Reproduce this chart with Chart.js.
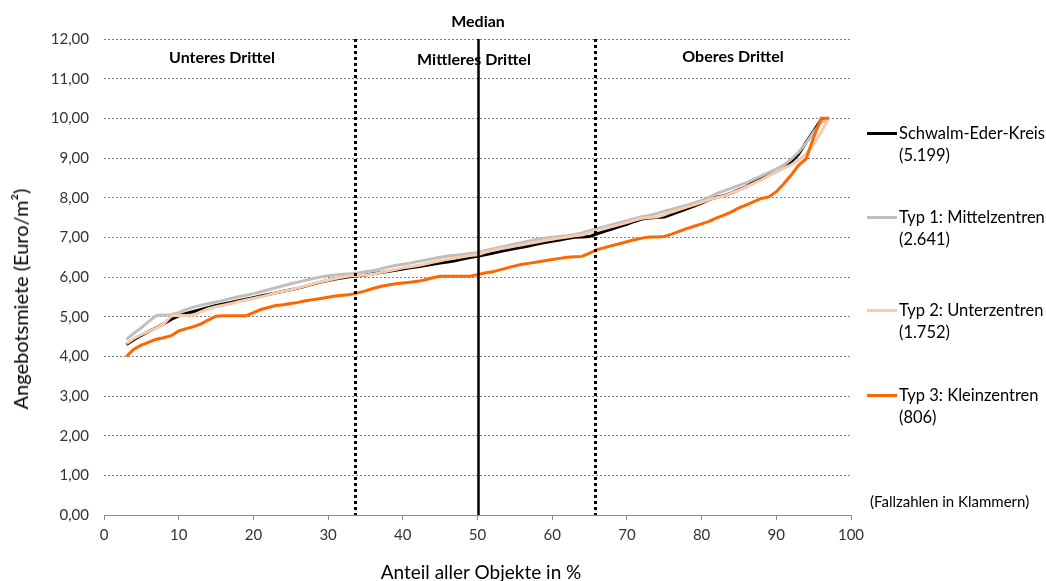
<!DOCTYPE html>
<html>
<head>
<meta charset="utf-8">
<script src="https://cdn.jsdelivr.net/npm/chart.js@4/dist/chart.umd.min.js"></script>
<style>
  html, body { margin: 0; padding: 0; background: #fff; }
  #wrap { position: relative; width: 1046px; height: 581px; font-family: Lato, "Open Sans", sans-serif; color: #000; }
  canvas { position: absolute; left: 0; top: 0; }
  .ann { position: absolute; font-weight: bold; font-size: 16px; white-space: nowrap; transform: translate(-50%, -50%); }
  .leg { position: absolute; left: 867px; font-size: 16.5px; line-height: 22px; white-space: nowrap; color: #000; }
  .leg .sw { position: absolute; left: 0; top: 10px; width: 30px; height: 3px; }
  .leg .tx { margin-left: 32px; }
  #note { position: absolute; left: 870px; top: 492px; font-size: 15px; white-space: nowrap; }
  #ytitle { position: absolute; left: 20px; top: 299px; font-size: 20px; white-space: nowrap; transform: translate(-50%, -50%) rotate(-90deg); color: #000; }
  #xtitle { position: absolute; left: 481px; top: 571px; font-size: 19px; white-space: nowrap; transform: translate(-50%, -50%); color: #000; }
</style>
</head>
<body>
<div id="wrap">
  <canvas id="c" width="1046" height="581"></canvas>
  <div class="ann" style="left:478px;top:20px;">Median</div>
  <div class="ann" style="left:222px;top:56px;">Unteres Drittel</div>
  <div class="ann" style="left:474px;top:58px;">Mittleres Drittel</div>
  <div class="ann" style="left:733px;top:55px;">Oberes Drittel</div>
  <div id="legend"></div>
  <div id="note">(Fallzahlen in Klammern)</div>
  <div id="ytitle">Angebotsmiete (Euro/m²)</div>
  <div id="xtitle">Anteil aller Objekte in %</div>
</div>
<script>
// Share of all objects in % (x positions)
const pct = [3,4,5,6,7,8,9,10,11,12,13,14,15,16,17,18,19,20,21,22,23,24,25,26,27,28,29,30,31,32,33,34,35,36,37,38,39,40,41,42,43,44,45,46,47,48,49,50,51,52,53,54,55,56,57,58,59,60,61,62,63,64,65,66,67,68,69,70,71,72,73,74,75,76,77,78,79,80,81,82,83,84,85,86,87,88,89,90,91,92,93,94,95,96,97];

const seriesNames = ["Schwalm-Eder-Kreis", "Typ 1: Mittelzentren", "Typ 2: Unterzentren", "Typ 3: Kleinzentren"];
const caseCounts = ["(5.199)", "(2.641)", "(1.752)", "(806)"];

const schwalmEder = [4.30,4.42,4.53,4.63,4.72,4.82,4.93,5.02,5.08,5.13,5.18,5.23,5.28,5.32,5.36,5.40,5.44,5.48,5.52,5.56,5.60,5.64,5.68,5.72,5.77,5.82,5.87,5.91,5.95,5.98,6.01,6.03,6.05,6.08,6.11,6.14,6.17,6.20,6.23,6.26,6.29,6.32,6.35,6.38,6.41,6.45,6.49,6.52,6.56,6.60,6.64,6.68,6.72,6.75,6.79,6.83,6.87,6.90,6.93,6.97,7.00,7.01,7.02,7.09,7.15,7.21,7.27,7.33,7.40,7.46,7.49,7.50,7.51,7.58,7.65,7.72,7.79,7.86,7.95,8.01,8.05,8.12,8.20,8.28,8.40,8.48,8.58,8.66,8.76,8.90,9.10,9.40,9.68,9.97,10.00];

const typ1 = [4.43,4.58,4.72,4.88,5.03,5.04,5.05,5.10,5.18,5.24,5.29,5.33,5.37,5.41,5.46,5.50,5.54,5.58,5.63,5.68,5.73,5.78,5.83,5.87,5.92,5.96,6.00,6.03,6.05,6.07,6.08,6.10,6.13,6.16,6.20,6.25,6.29,6.32,6.35,6.39,6.42,6.46,6.50,6.53,6.55,6.57,6.59,6.61,6.66,6.71,6.75,6.79,6.83,6.87,6.91,6.95,6.98,7.00,7.02,7.04,7.07,7.11,7.17,7.22,7.27,7.32,7.37,7.42,7.47,7.52,7.55,7.60,7.66,7.71,7.76,7.81,7.87,7.93,8.01,8.10,8.17,8.24,8.31,8.38,8.46,8.55,8.64,8.72,8.82,8.97,9.15,9.38,9.65,9.90,10.00];

const typ2 = [4.32,4.45,4.55,4.63,4.71,4.82,5.02,5.03,5.03,5.04,5.13,5.20,5.25,5.29,5.33,5.38,5.42,5.46,5.50,5.55,5.60,5.64,5.68,5.73,5.78,5.83,5.88,5.92,5.96,6.00,6.03,6.04,6.05,6.07,6.11,6.15,6.19,6.23,6.26,6.29,6.33,6.37,6.41,6.45,6.48,6.51,6.54,6.56,6.62,6.67,6.71,6.74,6.78,6.81,6.85,6.88,6.92,6.95,6.98,7.01,7.04,7.06,7.12,7.17,7.22,7.27,7.32,7.37,7.43,7.48,7.50,7.51,7.57,7.64,7.70,7.76,7.82,7.88,7.95,8.00,8.04,8.12,8.19,8.27,8.36,8.45,8.55,8.65,8.74,8.83,8.95,9.10,9.35,9.65,10.00];

const typ3 = [4.00,4.18,4.28,4.36,4.43,4.47,4.52,4.64,4.70,4.75,4.82,4.92,5.01,5.02,5.02,5.02,5.02,5.10,5.18,5.23,5.28,5.30,5.33,5.36,5.40,5.43,5.46,5.49,5.52,5.54,5.56,5.60,5.65,5.71,5.76,5.80,5.83,5.85,5.87,5.89,5.93,5.98,6.02,6.02,6.02,6.02,6.02,6.06,6.10,6.13,6.18,6.23,6.28,6.32,6.35,6.38,6.41,6.44,6.47,6.50,6.51,6.52,6.60,6.69,6.74,6.79,6.84,6.89,6.94,6.98,7.01,7.01,7.02,7.08,7.15,7.22,7.28,7.34,7.40,7.49,7.56,7.64,7.74,7.82,7.90,7.98,8.02,8.15,8.35,8.57,8.82,8.98,9.52,10.00,10.00];

const seriesColors = ["#000000", "#bfbfbf", "#f8cbad", "#ff6600"];

// Divider lines: lower third, median, upper third (x in %)
const dividerX = [33.6, 50, 65.7];
const dividerDashed = [true, false, true];

const yTicks = [0,1,2,3,4,5,6,7,8,9,10,11,12];
const xTicks = [0,10,20,30,40,50,60,70,80,90,100];

const allSeries = [schwalmEder, typ1, typ2, typ3];

const datasets = allSeries.map((vals, i) => ({
  label: seriesNames[i],
  data: pct.map((x, j) => ({ x: x, y: vals[j] })),
  borderColor: seriesColors[i],
  backgroundColor: seriesColors[i],
  borderWidth: 3,
  pointRadius: 0,
  tension: 0,
  fill: false,
  order: 4 - i
}));

const dividerPlugin = {
  id: 'dividers',
  afterDatasetsDraw(chart) {
    const { ctx, chartArea, scales } = chart;
    ctx.save();
    dividerX.forEach((v, i) => {
      const px = Math.round(scales.x.getPixelForValue(v)) + 0.5;
      ctx.beginPath();
      ctx.strokeStyle = '#000';
      if (dividerDashed[i]) { ctx.lineWidth = 3; ctx.setLineDash([3, 3]); }
      else { ctx.lineWidth = 2.5; ctx.setLineDash([]); }
      ctx.moveTo(px, chartArea.top);
      ctx.lineTo(px, chartArea.bottom);
      ctx.stroke();
    });
    ctx.restore();
  }
};

// Legend (HTML)
const legendTops = [122, 206, 299, 384];
const legEl = document.getElementById('legend');
seriesNames.forEach((n, i) => {
  const d = document.createElement('div');
  d.className = 'leg';
  d.style.top = legendTops[i] + 'px';
  d.innerHTML = '<span class="sw" style="background:' + seriesColors[i] + '"></span><div class="tx">' + n + '</div><div class="tx">' + caseCounts[i] + '</div>';
  legEl.appendChild(d);
});

new Chart(document.getElementById('c'), {
  type: 'line',
  data: { datasets: datasets },
  plugins: [dividerPlugin],
  options: {
    responsive: false,
    animation: false,
    layout: { padding: { top: 39, right: 195, left: 0, bottom: 0 } },
    plugins: { legend: { display: false }, tooltip: { enabled: false } },
    scales: {
      x: {
        type: 'linear',
        min: 0, max: 100,
        afterBuildTicks(scale) { scale.ticks = xTicks.map(v => ({ value: v })); },
        afterFit(scale) { scale.height = 66; },
        ticks: { color: '#333333', font: { family: 'Lato', size: 15 }, padding: 6, maxRotation: 0 },
        grid: { drawOnChartArea: false, drawTicks: true, tickLength: 5, color: '#8c8c8c' },
        border: { display: true, color: '#8c8c8c', width: 1 }
      },
      y: {
        type: 'linear',
        min: 0, max: 12,
        afterBuildTicks(scale) { scale.ticks = yTicks.map(v => ({ value: v })); },
        afterFit(scale) { scale.width = 104; },
        ticks: {
          color: '#333333', font: { family: 'Lato', size: 15 }, padding: 15,
          callback: v => v.toFixed(2).replace('.', ',')
        },
        grid: { color: '#7f7f7f', lineWidth: 1, drawTicks: false },
        border: { display: false, dash: [2, 2] }
      }
    }
  }
});
</script>
</body>
</html>
